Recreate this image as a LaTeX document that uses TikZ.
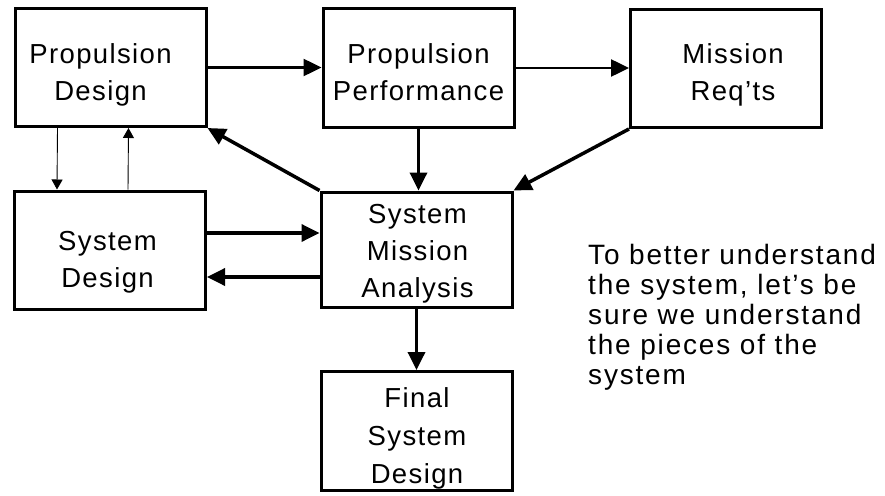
\documentclass[tikz,border=0pt]{standalone}
\usepackage{fontspec}
\setmainfont{Liberation Sans}[LetterSpace=5]
\newfontfamily\notefont{Liberation Sans}[LetterSpace=6.5]
\usetikzlibrary{arrows.meta}

\tikzset{
  block/.style={draw, line width=3pt, minimum width=191pt, minimum height=118pt,
    inner sep=0pt},
  boxtext/.style={inner sep=0pt, align=center,
    font=\fontsize{27.5}{37}\selectfont},
  toparrow/.style={line width=2.5pt, -{Triangle[length=18pt,width=17pt]}},
  heavyarrow/.style={line width=3.5pt, -{Triangle[length=18pt,width=17pt]}},
  thinarrow/.style={line width=0.9pt, -{Triangle[length=10pt,width=11pt]}},
  note/.style={inner sep=0pt, align=left, font=\notefont\fontsize{28}{30}\selectfont}
}
% a strut matching the 37pt line pitch of the box captions
\newcommand\ls{\rule[-11.1pt]{0pt}{37pt}}

\begin{document}
\begin{tikzpicture}[x=1pt, y=-1pt]
  \useasboundingbox (0,0) rectangle (885,495);

  % boxes
  \node[block] (pd)  at (110.5,67.5) {};
  \node[block] (pp)  at (418.5,68)   {};
  \node[block] (mr)  at (726,68.5)   {};
  \node[block] (sd)  at (110,250)    {};
  \node[block, minimum height=115pt] (sma) at (416.5,249.5) {};
  \node[block, minimum height=119pt] (fsd) at (417,431) {};

  % captions
  \node[boxtext] (pdt)  at ([xshift=-10pt,yshift=-6.6pt]pd.center) {\ls Propulsion\\\ls Design};
  \node[boxtext] (ppt)  at ([yshift=-6.1pt]pp.center) {\ls Propulsion\\\ls Performance};
  \node[boxtext] (mrt)  at ([xshift=7pt,yshift=-5.6pt]mr.center) {\ls Mission\\\ls Req'ts};
  \node[boxtext] (sdt)  at ([xshift=-2.5pt,yshift=-11.1pt]sd.center) {\ls System\\\ls Design};
  \node[boxtext] (smat) at ([xshift=1pt,yshift=-3.6pt]sma.center) {\ls System\\\ls Mission\\\ls Analysis};
  \node[boxtext, font=\fontsize{27.5}{38}\selectfont] (fsdt) at ([yshift=-6.6pt]fsd.center) {\ls Final\\\ls System\\\ls Design};

  % remark on the right
  \node[note, anchor=north west] (txt) at (588,244.5)
    {To better understand\\the system, let’s be\\sure we understand\\the pieces of the\\system};

  % top row flow
  \draw[toparrow] (pd.east) -- (pd.east -| pp.west);
  \draw[toparrow] (pp.east) -- (pp.east -| mr.west);

  % into and out of the mission analysis
  \draw[heavyarrow] (pp.south) -- (pp.south |- sma.north);
  \draw[heavyarrow] (mr.south west) -- (sma.north east);
  \draw[heavyarrow] (sma.north west) -- (pd.south east);
  \draw[heavyarrow] ([yshift=17pt]sd.east) -- ([yshift=17pt]sd.east -| sma.west);
  \draw[heavyarrow] ([yshift=-27pt]sd.east -| sma.west) -- ([yshift=-27pt]sd.east);
  \draw[heavyarrow] (sma.south) -- (sma.south |- fsd.north);

  % exchange between propulsion design and system design
  \draw[thinarrow] ([xshift=44pt]pd.south west) -- ([xshift=44pt]sd.north west);
  \draw[thinarrow] ([xshift=115pt]sd.north west) -- ([xshift=115pt]pd.south west);
\end{tikzpicture}
\end{document}
